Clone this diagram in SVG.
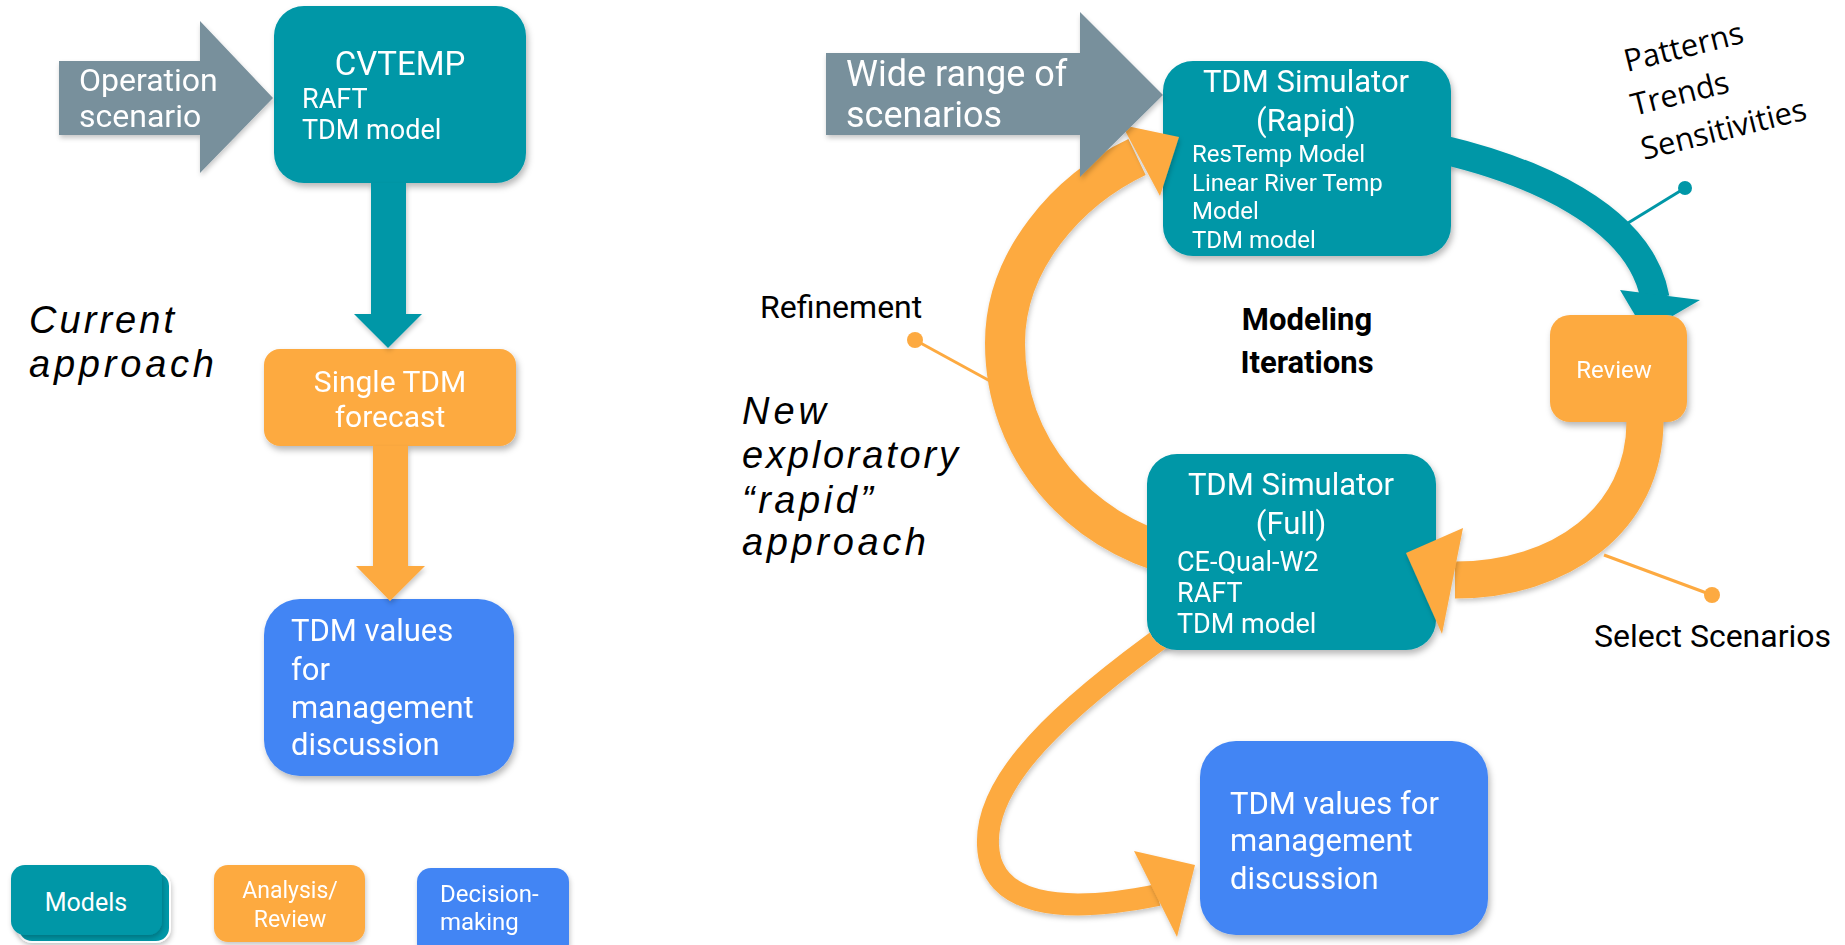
<svg xmlns="http://www.w3.org/2000/svg" width="1845" height="945" viewBox="0 0 1845 945">
<defs>
<style>
.teal{fill:#0097A7}
.orange{fill:#FDAA41}
.blue{fill:#4285F4}
.gray{fill:#78909C}
.wt{fill:#fff;font-family:Roboto,"Liberation Sans",sans-serif}
.bk{fill:#000;font-family:Roboto,"Liberation Sans",sans-serif}
.it{fill:#000;font-family:"Liberation Sans",Arial,sans-serif;font-style:italic;font-weight:normal}
.rot{fill:#000;font-family:"Open Sans","Liberation Sans",sans-serif;font-size:31px}
.band{fill:none;stroke-linecap:butt}
</style>
<filter id="sh" x="-20%" y="-20%" width="140%" height="140%">
<feDropShadow dx="2" dy="4" stdDeviation="3" flood-color="#000" flood-opacity="0.28"/>
</filter>
<filter id="sh2" x="-20%" y="-20%" width="140%" height="140%">
<feDropShadow dx="1" dy="3" stdDeviation="2.5" flood-color="#000" flood-opacity="0.22"/>
</filter>
<mask id="boxes" maskUnits="userSpaceOnUse" x="0" y="0" width="1845" height="945">
<rect x="0" y="0" width="1845" height="945" fill="#fff"/>
<rect x="1163" y="61" width="288" height="195" rx="30" fill="#000"/>
<rect x="1147" y="454" width="289" height="196" rx="30" fill="#000"/>
<rect x="1550" y="315" width="137" height="107" rx="20" fill="#000"/>
</mask>
</defs>

<g id="cvtemp" filter="url(#sh)">
<rect class="teal" x="274" y="6" width="252" height="177" rx="30"/>
<text class="wt" x="400" y="75" font-size="33" text-anchor="middle">CVTEMP</text>
<text class="wt" x="302" y="108" font-size="27">RAFT</text>
<text class="wt" x="302" y="139" font-size="27">TDM model</text>
</g>

<g id="single-tdm" filter="url(#sh)">
<rect class="orange" x="264" y="349" width="252" height="97" rx="16"/>
<text class="wt" x="390" y="392" font-size="30" text-anchor="middle">Single TDM</text>
<text class="wt" x="390" y="427" font-size="30" text-anchor="middle">forecast</text>
</g>

<g id="tdm-values-left" filter="url(#sh)">
<rect class="blue" x="264" y="599" width="250" height="177" rx="36"/>
<text class="wt" x="291" y="641" font-size="31">TDM values</text>
<text class="wt" x="291" y="680" font-size="31">for</text>
<text class="wt" x="291" y="718" font-size="31">management</text>
<text class="wt" x="291" y="755" font-size="31">discussion</text>
</g>

<g id="current-approach">
<text class="it" x="29" y="333" font-size="38" textLength="145" lengthAdjust="spacing">Current</text>
<text class="it" x="29" y="377" font-size="38" textLength="185" lengthAdjust="spacing">approach</text>
</g>

<g id="legend-models">
<rect class="teal" x="18" y="872" width="152" height="70" rx="14" stroke="#fff" stroke-width="2" filter="url(#sh2)"/>
<rect class="teal" x="11" y="865" width="151" height="70" rx="14" filter="url(#sh2)"/>
<text class="wt" x="86" y="911" font-size="25" text-anchor="middle">Models</text>
</g>
<g id="legend-analysis" filter="url(#sh2)">
<rect class="orange" x="214" y="865" width="151" height="77" rx="14"/>
<text class="wt" x="290" y="898" font-size="23" text-anchor="middle">Analysis/</text>
<text class="wt" x="290" y="927" font-size="23" text-anchor="middle">Review</text>
</g>
<g id="legend-decision" filter="url(#sh2)">
<rect class="blue" x="417" y="868" width="152" height="90" rx="14"/>
<text class="wt" x="440" y="902" font-size="24">Decision-</text>
<text class="wt" x="440" y="930" font-size="24">making</text>
</g>

<g id="tdm-rapid" filter="url(#sh)">
<rect class="teal" x="1163" y="61" width="288" height="195" rx="30"/>
<text class="wt" x="1306" y="92" font-size="31" text-anchor="middle">TDM Simulator</text>
<text class="wt" x="1306" y="131" font-size="31" text-anchor="middle">(Rapid)</text>
<text class="wt" x="1192" y="162" font-size="24">ResTemp Model</text>
<text class="wt" x="1192" y="191" font-size="24">Linear River Temp</text>
<text class="wt" x="1192" y="219" font-size="24">Model</text>
<text class="wt" x="1192" y="248" font-size="24">TDM model</text>
</g>

<g id="tdm-full" filter="url(#sh)">
<rect class="teal" x="1147" y="454" width="289" height="196" rx="30"/>
<text class="wt" x="1291" y="495" font-size="31" text-anchor="middle">TDM Simulator</text>
<text class="wt" x="1291" y="534" font-size="31" text-anchor="middle">(Full)</text>
<text class="wt" x="1177" y="571" font-size="27">CE-Qual-W2</text>
<text class="wt" x="1177" y="602" font-size="27">RAFT</text>
<text class="wt" x="1177" y="633" font-size="27">TDM model</text>
</g>

<g id="review" filter="url(#sh)">
<rect class="orange" x="1550" y="315" width="137" height="107" rx="20"/>
<text class="wt" x="1614" y="378" font-size="24" text-anchor="middle">Review</text>
</g>

<g id="tdm-values-right" filter="url(#sh)">
<rect class="blue" x="1200" y="741" width="288" height="194" rx="36"/>
<text class="wt" x="1230" y="814" font-size="31">TDM values for</text>
<text class="wt" x="1230" y="851" font-size="31">management</text>
<text class="wt" x="1230" y="889" font-size="31">discussion</text>
</g>

<g id="modeling-iterations">
<text class="bk" x="1307" y="330" font-size="31" font-weight="bold" text-anchor="middle">Modeling</text>
<text class="bk" x="1307" y="373" font-size="31" font-weight="bold" text-anchor="middle">Iterations</text>
</g>

<g id="new-approach">
<text class="it" x="742" y="424" font-size="38" textLength="84" lengthAdjust="spacing">New</text>
<text class="it" x="742" y="468" font-size="38" textLength="216" lengthAdjust="spacing">exploratory</text>
<text class="it" x="742" y="513" font-size="38" textLength="131" lengthAdjust="spacing">“rapid”</text>
<text class="it" x="742" y="555" font-size="38" textLength="184" lengthAdjust="spacing">approach</text>
</g>

<g id="label-refinement">
<text class="bk" x="760" y="318" font-size="32">Refinement</text>
</g>
<g id="label-select">
<text class="bk" x="1594" y="647" font-size="32">Select Scenarios</text>
</g>
<g id="label-patterns">
<text class="rot" x="1627" y="72" transform="rotate(-14 1627 72)">Patterns</text>
<text class="rot" x="1634" y="116" transform="rotate(-14 1634 116)">Trends</text>
<text class="rot" x="1644" y="160" transform="rotate(-14 1644 160)">Sensitivities</text>
</g>

<g id="connectors">
<polygon class="teal" filter="url(#sh2)" points="371,183 406,183 406,314 422,314 388,348 354,314 371,314"/>
<polygon class="orange" filter="url(#sh2)" points="373,446 408,446 408,566 425,566 390,601 356,566 373,566"/>
<g mask="url(#boxes)">
<g filter="url(#sh2)">
<path class="band" d="M 1175 628 C 1060 710, 985 780, 988 845 C 990 905, 1060 915, 1158 895" stroke="#FDAA41" stroke-width="22"/>
<path class="band" d="M 1175 556 C 1080 532, 1005 450, 1005 343 C 1005 260, 1068 190, 1137 157" stroke="#FDAA41" stroke-width="40"/>
<path class="band" d="M 1440 149 C 1530 170, 1640 215, 1655 298" stroke="#0097A7" stroke-width="29"/>
<path class="band" d="M 1645 400 L 1645 421 C 1645 520, 1560 580, 1455 580" stroke="#FDAA41" stroke-width="37"/>
<polygon class="teal" points="1620,290 1700,300 1645,332"/>
</g>
</g>
<g filter="url(#sh2)">
<polygon class="orange" points="1134,851 1195,865 1177,937"/>
<polygon class="orange" points="1463,528 1442,634 1406,553"/>
<polygon class="orange" points="1122,125 1179,137 1160,196"/>
</g>
<line x1="915" y1="340" x2="990" y2="381" stroke="#FDAA41" stroke-width="3"/>
<circle cx="915" cy="340" r="8" fill="#FDAA41"/>
<line x1="1604" y1="555" x2="1712" y2="595" stroke="#FDAA41" stroke-width="3"/>
<circle cx="1712" cy="595" r="8" fill="#FDAA41"/>
<line x1="1628" y1="223" x2="1685" y2="188" stroke="#0097A7" stroke-width="3"/>
<circle cx="1685" cy="188" r="7" fill="#0097A7"/>
</g>

<g id="operation-scenario" filter="url(#sh2)">
<polygon class="gray" points="59,61 200,61 200,21 273,98 200,173 200,135 59,135"/>
<text class="wt" x="79" y="91" font-size="32">Operation</text>
<text class="wt" x="79" y="127" font-size="32">scenario</text>
</g>

<g id="wide-range" filter="url(#sh2)">
<polygon class="gray" points="826,53 1080,53 1080,12 1163,95 1080,177 1080,135 826,135"/>
<text class="wt" x="846" y="86" font-size="36">Wide range of</text>
<text class="wt" x="846" y="127" font-size="36">scenarios</text>
</g>
</svg>
